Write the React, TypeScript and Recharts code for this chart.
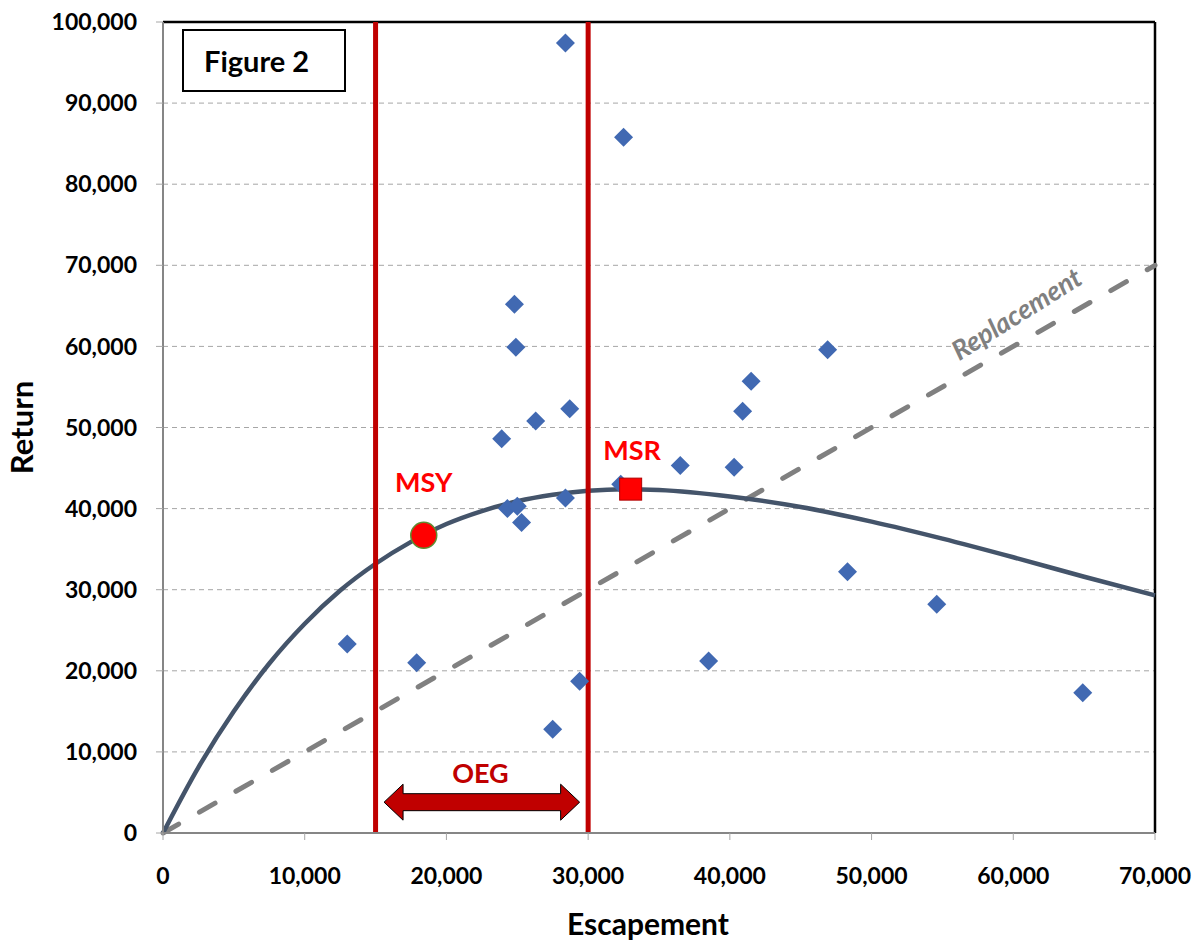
import {
  CartesianGrid,
  ComposedChart,
  Line,
  ReferenceDot,
  ReferenceLine,
  Scatter,
  XAxis,
  YAxis,
} from 'recharts';

// observed brood years: escapement vs return
const escapement = [
  28400, 32500, 24800, 24900, 46900, 41500, 28700, 40900, 26300, 23900, 36500, 40300, 32300,
  28400, 24300, 25000, 25300, 48300, 54600, 13000, 17900, 38500, 29400, 27500, 64900,
];
const returns = [
  97400, 85800, 65200, 59900, 59600, 55700, 52300, 52000, 50800, 48600, 45300, 45100, 43000,
  41300, 40000, 40300, 38300, 32200, 28200, 23300, 21000, 21200, 18700, 12800, 17300,
];

// fitted spawner-recruit curve
const curveEscapement = [
  0, 2500, 5000, 7500, 10000, 12500, 15000, 17500, 20000, 22500, 25000, 27500, 30000, 32500,
  35000, 40000, 45000, 50000, 55000, 60000, 65000, 70000,
];
const curveReturn = [
  0, 8100, 15000, 20900, 25800, 29900, 33200, 35900, 38100, 39700, 40900, 41700, 42200, 42400,
  42300, 41500, 40200, 38400, 36300, 34000, 31600, 29300,
];

const replacementX = [0, 70000];

const xTicks = [0, 10000, 20000, 30000, 40000, 50000, 60000, 70000];
const yTicks = [0, 10000, 20000, 30000, 40000, 50000, 60000, 70000, 80000, 90000, 100000];

const oegBounds = [15000, 30000];
const msy = { x: 18400, y: 36700 };
const msr = { x: 33000, y: 42400 };

const points = escapement.map((x, i) => ({ x, y: returns[i] }));
const curve = curveEscapement.map((x, i) => ({ x, y: curveReturn[i] }));
const replacement = replacementX.map((x) => ({ x, y: x }));

const FONT = 'Lato, "Open Sans", sans-serif';
const fmt = (v: number) => v.toLocaleString('en-US');

const Diamond = (p: any) => {
  const { cx, cy } = p;
  const r = 9.5;
  return (
    <polygon
      points={`${cx},${cy - r} ${cx + r},${cy} ${cx},${cy + r} ${cx - r},${cy}`}
      fill="#4169B2"
    />
  );
};

const OegArrow = (p: any) => {
  const { x1, x2, y1 } = p;
  const y = y1;
  const h = 18;
  const s = 8.5;
  const hl = 19;
  const pts = [
    [x1, y],
    [x1 + hl, y - h],
    [x1 + hl, y - s],
    [x2 - hl, y - s],
    [x2 - hl, y - h],
    [x2, y],
    [x2 - hl, y + h],
    [x2 - hl, y + s],
    [x1 + hl, y + s],
    [x1 + hl, y + h],
  ]
    .map((q) => q.join(','))
    .join(' ');
  return <polygon points={pts} fill="#C00000" stroke="#000" strokeWidth={1} />;
};

const textShape =
  (txt: string, color: string, size: number, extra: any = {}) =>
  (p: any) => (
    <text
      x={p.cx}
      y={p.cy}
      textAnchor="middle"
      dominantBaseline="central"
      fill={color}
      fontFamily={FONT}
      fontWeight={700}
      fontSize={size}
      fontStyle={extra.fontStyle}
      transform={extra.angle ? `rotate(${extra.angle} ${p.cx} ${p.cy})` : undefined}
    >
      {txt}
    </text>
  );

export default function App() {
  return (
    <div style={{ position: 'absolute', left: 0, top: 0, width: 1193, height: 944, background: '#fff' }}>
      <ComposedChart
        width={1193}
        height={944}
        margin={{ top: 22, right: 38, bottom: 0, left: 0 }}
      >
        <CartesianGrid vertical={false} strokeDasharray="5 4" stroke="#A6A6A6" />
        <XAxis
          type="number"
          dataKey="x"
          domain={[0, 70000]}
          ticks={xTicks}
          tickFormatter={fmt}
          height={111}
          axisLine={{ stroke: '#868686', strokeWidth: 2 }}
          tickLine={{ stroke: '#A6A6A6' }}
          tickSize={7}
          tickMargin={28}
          tick={{ fill: '#000', fontFamily: FONT, fontWeight: 700, fontSize: 23 }}
          label={{
            value: 'Escapement',
            position: 'insideBottom',
            offset: 9,
            dx: -11,
            fill: '#000',
            fontFamily: FONT,
            fontWeight: 700,
            fontSize: 30,
          }}
        />
        <YAxis
          type="number"
          dataKey="y"
          domain={[0, 100000]}
          ticks={yTicks}
          tickFormatter={fmt}
          width={163}
          axisLine={{ stroke: '#868686', strokeWidth: 2 }}
          tickLine={{ stroke: '#A6A6A6' }}
          tickSize={7}
          tickMargin={19}
          tick={{ fill: '#000', fontFamily: FONT, fontWeight: 700, fontSize: 23 }}
          label={{
            value: 'Return',
            angle: -90,
            position: 'insideLeft',
            offset: 22,
            style: { textAnchor: 'middle' },
            fill: '#000',
            fontFamily: FONT,
            fontWeight: 700,
            fontSize: 31,
          }}
        />
        <ReferenceLine y={100000} stroke="#000" strokeWidth={2.5} />
        <ReferenceLine x={70000} stroke="#000" strokeWidth={2.5} />
        <Line
          data={replacement}
          dataKey="y"
          type="linear"
          stroke="#808080"
          strokeWidth={5}
          strokeDasharray="18 24"
          strokeLinecap="round"
          dot={false}
          isAnimationActive={false}
        />
        <Line
          data={curve}
          dataKey="y"
          type="monotone"
          stroke="#44546A"
          strokeWidth={4.5}
          dot={false}
          isAnimationActive={false}
        />
        {oegBounds.map((b) => (
          <ReferenceLine key={b} x={b} stroke="#C00000" strokeWidth={5} />
        ))}
        <Scatter data={points} dataKey="y" shape={Diamond} isAnimationActive={false} />
        <ReferenceDot
          x={msy.x}
          y={msy.y}
          r={13}
          fill="#FF0000"
          stroke="#5E8C31"
          strokeWidth={1.5}
        />
        <ReferenceDot
          x={msr.x}
          y={msr.y}
          shape={(p: any) => (
            <rect x={p.cx - 11} y={p.cy - 11} width={22} height={22} fill="#FF0000" stroke="#B00000" strokeWidth={1} />
          )}
        />
        <ReferenceLine
          segment={[
            { x: 15600, y: 3800 },
            { x: 29400, y: 3800 },
          ]}
          shape={OegArrow}
        />
        <ReferenceDot x={18400} y={43400} shape={textShape('MSY', '#FF0000', 27)} />
        <ReferenceDot x={33100} y={47300} shape={textShape('MSR', '#FF0000', 27)} />
        <ReferenceDot x={22400} y={7500} shape={textShape('OEG', '#C00000', 27)} />
        <ReferenceDot
          x={60200}
          y={64100}
          shape={textShape('Replacement', '#808080', 27, { fontStyle: 'italic', angle: -32 })}
        />
      </ComposedChart>
      <div
        style={{
          position: 'absolute',
          left: 182,
          top: 29,
          width: 164,
          height: 63,
          boxSizing: 'border-box',
          border: '2px solid #000',
          background: '#fff',
          display: 'flex',
          alignItems: 'center',
          paddingLeft: 20,
          fontFamily: FONT,
          fontWeight: 700,
          fontSize: 29,
        }}
      >
        Figure 2
      </div>
    </div>
  );
}
